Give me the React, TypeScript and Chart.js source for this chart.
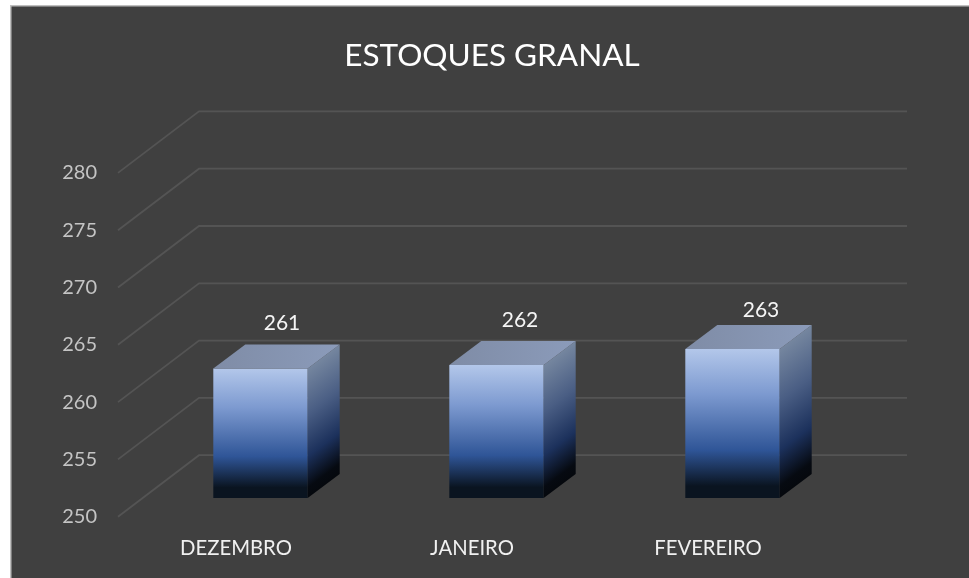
import React, { useEffect, useRef } from "react";
import { Chart, registerables } from "chart.js";

Chart.register(...registerables);

const TITLE = "ESTOQUES GRANAL";
const categories = ["DEZEMBRO", "JANEIRO", "FEVEREIRO"];
const stockValues = [261.3, 261.6, 263];
const axisMin = 250;
const axisMax = 280;
const axisStep = 5;

const FONT = "Lato, 'Open Sans', sans-serif";
const BAR_DEPTH_X = 32;
const BAR_DEPTH_Y = 24;
const FRONT_SHIFT_X = 24.5;
const FRONT_SHIFT_Y = 18.7;
const WALL_DEPTH_X = 81;
const WALL_DEPTH_Y = 61.5;
const WALL_RIGHT = 907;
const LABEL_SHIFT = [
  [21.5, -21],
  [23.5, -21],
  [28.5, -15],
];

function stops(g: CanvasGradient, list: [number, string][]) {
  list.forEach(([o, c]) => g.addColorStop(o, c));
  return g;
}

const scenePlugin = {
  id: "scene",
  beforeDraw(chart: any) {
    const { ctx, width, height } = chart;
    ctx.save();
    ctx.fillStyle = "#ffffff";
    ctx.fillRect(0, 0, width, height);
    ctx.fillStyle = "#bfbfbf";
    ctx.fillRect(10, 5, width - 10, height - 5);
    ctx.fillStyle = "#404040";
    ctx.fillRect(11.5, 6.5, width - 11.5, height - 6.5);
    ctx.restore();
  },
  beforeDatasetsDraw(chart: any) {
    const { ctx, chartArea } = chart;
    const y = chart.scales.y;
    ctx.save();
    ctx.strokeStyle = "#545454";
    ctx.lineWidth = 1.8;
    y.ticks.forEach((t: any) => {
      const py = y.getPixelForValue(t.value);
      const fx = chartArea.left - FRONT_SHIFT_X;
      const fy = py + FRONT_SHIFT_Y;
      ctx.beginPath();
      ctx.moveTo(fx, fy);
      ctx.lineTo(fx + WALL_DEPTH_X, fy - WALL_DEPTH_Y);
      ctx.lineTo(WALL_RIGHT, fy - WALL_DEPTH_Y);
      ctx.stroke();
    });
    ctx.restore();
  },
  afterDatasetsDraw(chart: any) {
    const { ctx } = chart;
    const bars = chart.getDatasetMeta(0).data;
    ctx.save();
    bars.forEach((bar: any, i: number) => {
      const half = bar.width / 2;
      const l = bar.x - half;
      const r = bar.x + half;
      const top = bar.y;
      const base = bar.base;
      const h = base - top;

      // side face
      const side = ctx.createLinearGradient(r, top, r + 0.48 * h, top + 0.64 * h);
      stops(side, [
        [0, "#75869f"],
        [0.35, "#4a5e84"],
        [0.68, "#1c315c"],
        [0.92, "#060a11"],
        [1, "#05080d"],
      ]);
      ctx.fillStyle = side;
      ctx.beginPath();
      ctx.moveTo(r, top);
      ctx.lineTo(r + BAR_DEPTH_X, top - BAR_DEPTH_Y);
      ctx.lineTo(r + BAR_DEPTH_X, base - BAR_DEPTH_Y);
      ctx.lineTo(r, base);
      ctx.closePath();
      ctx.fill();

      // top face
      const lid = ctx.createLinearGradient(l, top, r + BAR_DEPTH_X, top);
      stops(lid, [
        [0, "#7f8ca6"],
        [1, "#8b9bba"],
      ]);
      ctx.fillStyle = lid;
      ctx.beginPath();
      ctx.moveTo(l, top);
      ctx.lineTo(l + BAR_DEPTH_X, top - BAR_DEPTH_Y);
      ctx.lineTo(r + BAR_DEPTH_X, top - BAR_DEPTH_Y);
      ctx.lineTo(r, top);
      ctx.closePath();
      ctx.fill();

      // value label
      ctx.fillStyle = "#f5f5f5";
      ctx.font = `21px ${FONT}`;
      ctx.textAlign = "center";
      ctx.textBaseline = "middle";
      const [dx, dy] = LABEL_SHIFT[i];
      ctx.fillText(
        String(Math.round(stockValues[i])),
        bar.x + dx,
        top - BAR_DEPTH_Y + dy
      );
    });
    ctx.restore();
  },
};

export default function App() {
  const ref = useRef<HTMLCanvasElement>(null);

  useEffect(() => {
    document.body.style.background = "#ffffff";
    const chart = new Chart(ref.current as HTMLCanvasElement, {
      type: "bar",
      data: {
        labels: categories,
        datasets: [
          {
            label: TITLE,
            data: stockValues,
            base: axisMin,
            barPercentage: 0.4,
            categoryPercentage: 1,
            borderWidth: 0,
            backgroundColor: (c: any) => {
              const { chart: ch, raw } = c;
              const scale = ch.scales?.y;
              if (!ch.chartArea || !scale || raw == null) return "#2f5597";
              const g = ch.ctx.createLinearGradient(
                0,
                scale.getPixelForValue(raw),
                0,
                scale.getPixelForValue(axisMin)
              );
              return stops(g, [
                [0, "#b3c7ea"],
                [0.3, "#7d9ad0"],
                [0.68, "#2f5597"],
                [0.92, "#0a1420"],
                [1, "#0a1420"],
              ]);
            },
          },
        ],
      },
      options: {
        responsive: false,
        animation: false,
        layout: { padding: { left: 15, right: 0, top: 0, bottom: 0 } },
        plugins: {
          legend: { display: false },
          tooltip: { enabled: false },
          title: {
            display: true,
            text: TITLE,
            color: "#ffffff",
            font: { family: FONT, size: 31.5, weight: "normal", lineHeight: 1.2 },
            padding: { top: 37.1, bottom: 79.3 },
          },
        },
        scales: {
          x: {
            type: "category",
            grid: { display: false, drawTicks: false },
            border: { display: false },
            ticks: {
              color: "#f0f0f0",
              font: { family: FONT, size: 20.3 },
              padding: 38,
              labelOffset: -FRONT_SHIFT_X,
              maxRotation: 0,
            },
            afterFit: (s: any) => {
              s.height = 80;
            },
          },
          y: {
            type: "linear",
            min: axisMin,
            max: axisMax,
            grid: { display: false, drawTicks: false },
            border: { display: false },
            ticks: {
              stepSize: axisStep,
              color: "#c4c4c4",
              font: { family: FONT, size: 20 },
              padding: 45.5,
              labelOffset: FRONT_SHIFT_Y,
            },
            afterFit: (s: any) => {
              s.width = 127.5;
            },
          },
          rightGutter: {
            type: "linear",
            position: "right",
            display: true,
            grid: { display: false, drawTicks: false },
            border: { display: false },
            ticks: { display: false },
            afterFit: (s: any) => {
              s.width = 118.5;
            },
          },
        },
      } as any,
      plugins: [scenePlugin],
    });
    return () => chart.destroy();
  }, []);

  return (
    <canvas
      ref={ref}
      width={969}
      height={578}
      style={{ position: "fixed", left: 0, top: 0, display: "block" }}
    />
  );
}
